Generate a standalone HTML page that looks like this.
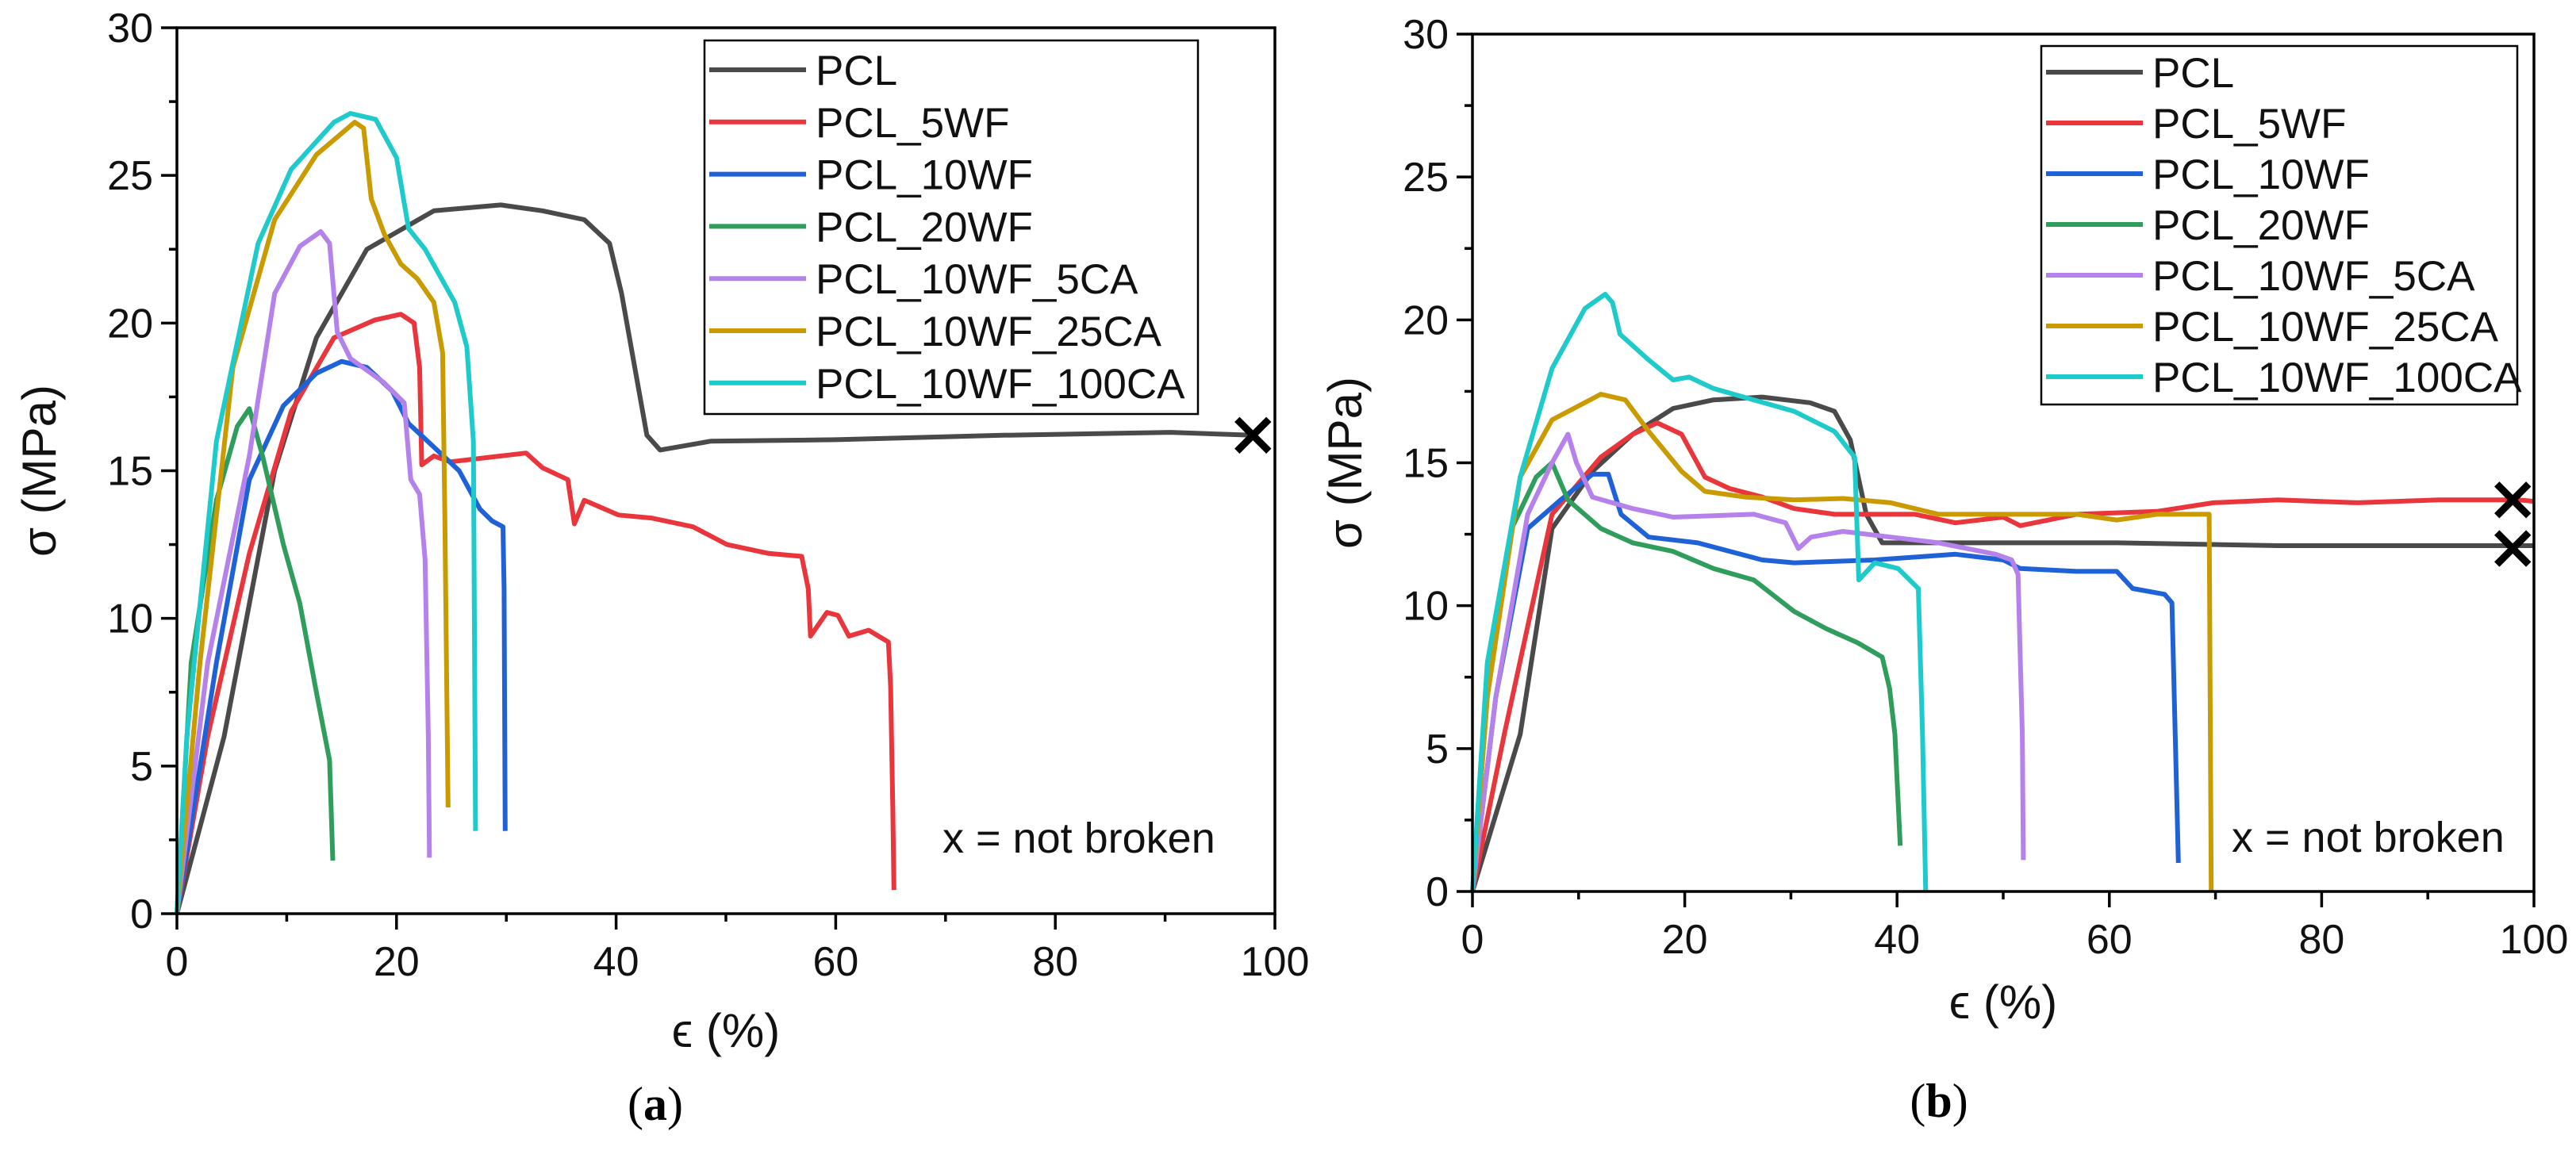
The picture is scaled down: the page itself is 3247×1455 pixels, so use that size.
<!DOCTYPE html>
<html><head><meta charset="utf-8"><style>
html,body{margin:0;padding:0;background:#fff;}
svg{display:block;font-family:"Liberation Sans",sans-serif;}
</style></head><body>
<svg id="fig" width="3247" height="1455" viewBox="0 0 3247 1455"></svg>
<script>
const seriesNames=["PCL","PCL_5WF","PCL_10WF","PCL_20WF","PCL_10WF_5CA","PCL_10WF_25CA","PCL_10WF_100CA"];
const seriesColors=["#4a4a4a","#e8363c","#1f62d8","#2f9e5c","#b482ea","#c99b00","#1fcaca"];
const xTicks=[0,20,40,60,80,100];
const yTicks=[0,5,10,15,20,25,30];
// panel a
const aPCL=[[0,0],[4.3,6],[8.9,15],[12.7,19.5],[17.3,22.5],[23.4,23.8],[29.5,24],[33.3,23.8],[37.1,23.5],[39.4,22.7],[40.5,21],[41.7,18.5],[42.8,16.2],[44,15.7],[48.6,16],[60,16.05],[75.2,16.2],[90.5,16.3],[98,16.2]];
const a5WF=[[0,0],[2.8,6],[6.6,12.2],[10.4,17],[14.3,19.5],[18,20.1],[20.4,20.3],[21.6,20],[22.1,18.5],[22.3,15.2],[23.4,15.5],[24.9,15.3],[29.5,15.5],[31.8,15.6],[33.3,15.1],[35.6,14.7],[36.2,13.2],[37.1,14],[40.2,13.5],[43.2,13.4],[47,13.1],[50.1,12.5],[53.9,12.2],[56.9,12.1],[57.5,11],[57.7,9.4],[59.2,10.2],[60.2,10.1],[61.2,9.4],[63,9.6],[64.8,9.2],[65,7.7],[65.2,3.5],[65.3,0.8]];
const a10WF=[[0,0],[3.6,8.5],[6.6,14.7],[9.7,17.2],[12.7,18.3],[15,18.7],[17.3,18.5],[19.6,17.7],[21.1,16.6],[23.4,15.8],[25.7,15],[27.6,13.7],[28.7,13.3],[29.7,13.1],[29.8,11],[29.9,2.8]];
const a20WF=[[0,0],[1.3,8.5],[3.6,14],[5.5,16.5],[6.6,17.1],[7.8,15.5],[9.7,12.5],[11.2,10.5],[12.7,7.5],[13.9,5.2],[14.2,1.8]];
const a5CA=[[0,0],[2.8,8.5],[6.6,15.5],[8.9,21],[11.2,22.6],[13.1,23.1],[13.9,22.7],[14.6,19.7],[15.8,18.8],[18.8,18],[20.7,17.3],[21.3,14.7],[22.1,14.2],[22.6,12],[22.9,6],[23,1.9]];
const a25CA=[[0,0],[2.1,8.5],[5.1,18.5],[8.9,23.5],[12.7,25.7],[16.2,26.8],[17,26.6],[17.7,24.2],[18.9,23],[20.4,22],[21.9,21.5],[23.4,20.7],[24.2,19],[24.4,13.5],[24.7,3.6]];
const a100CA=[[0,0],[0.9,6],[3.6,16],[7.4,22.7],[10.4,25.2],[14.3,26.8],[15.8,27.1],[18.1,26.9],[20,25.6],[21.1,23.2],[22.6,22.5],[25.3,20.7],[26.4,19.2],[27,16],[27.2,2.8]];
const aMarks=[[98,16.2]];
// panel b
const bPCL=[[0,0],[4.5,5.5],[7.5,12.7],[11.3,14.7],[15.1,16],[18.9,16.9],[22.7,17.2],[27.3,17.3],[31.8,17.1],[34.1,16.8],[35.6,15.8],[37.1,13.2],[38.6,12.2],[45.5,12.2],[60.7,12.2],[75.9,12.1],[98.6,12.1],[100,12.1]];
const b5WF=[[0,0],[3,5.5],[7.5,13.2],[12.1,15.2],[15.1,16],[17.4,16.4],[19.7,16],[21.9,14.5],[24.2,14.1],[27.3,13.8],[30.3,13.4],[34.1,13.2],[41.7,13.2],[45.5,12.9],[50,13.1],[51.6,12.8],[56.9,13.2],[64.5,13.3],[69.8,13.6],[75.9,13.7],[83.4,13.6],[91,13.7],[98.6,13.7],[100,13.65]];
const b10WF=[[0,0],[2.2,6.8],[5.2,12.7],[8.3,13.7],[11.3,14.6],[12.8,14.6],[14,13.2],[16.6,12.4],[21.2,12.2],[27.3,11.6],[30.3,11.5],[37.9,11.6],[45.5,11.8],[50,11.6],[51.6,11.3],[56.9,11.2],[60.7,11.2],[62.2,10.6],[65.2,10.4],[65.9,10.1],[66.2,5.5],[66.5,1]];
const b20WF=[[0,0],[1.4,6.8],[3.7,12.7],[6,14.5],[7.5,15],[9,13.7],[12.1,12.7],[15.1,12.2],[18.9,11.9],[22.7,11.3],[26.5,10.9],[30.3,9.8],[33.3,9.2],[36.3,8.7],[38.6,8.2],[39.3,7.1],[39.8,5.5],[40.3,1.6]];
const b5CA=[[0,0],[2.2,6.8],[5.2,13.2],[7.5,15],[9,16],[9.8,15],[11.3,13.8],[15.1,13.4],[18.9,13.1],[26.5,13.2],[29.5,12.9],[30.7,12],[31.9,12.4],[34.9,12.6],[39.4,12.4],[43.9,12.2],[49.3,11.8],[50.8,11.6],[51.4,11.1],[51.8,5.5],[51.9,1.1]];
const b25CA=[[0,0],[1.4,6.8],[4.5,14.5],[7.5,16.5],[12.1,17.4],[14.4,17.2],[16.6,16.1],[19.7,14.7],[21.9,14],[25.7,13.8],[30.3,13.7],[34.9,13.75],[39.4,13.6],[43.9,13.2],[49.3,13.2],[56.9,13.2],[60.7,13],[64.5,13.2],[69.4,13.2],[69.6,0]];
const b100CA=[[0,0],[1.4,8],[4.5,14.5],[7.5,18.3],[10.6,20.4],[12.5,20.9],[13.2,20.6],[13.9,19.5],[16.6,18.6],[18.9,17.9],[20.4,18],[22.7,17.6],[26.5,17.2],[30.3,16.8],[34.1,16.1],[36,15.2],[36.4,10.9],[37.9,11.5],[40.1,11.3],[42,10.6],[42.4,5.5],[42.7,0]];
const bMarks=[[98,13.7],[98,12.0]];

const NS="http://www.w3.org/2000/svg";
const svg=document.getElementById("fig");
function mk(tag,attrs,parent){const e=document.createElementNS(NS,tag);for(const k in attrs)e.setAttribute(k,attrs[k]);(parent||svg).appendChild(e);return e;}

function panel(P){
  const g=mk("g",{});
  
  
  const sx=v=>P.x0+(v/100)*(P.x1-P.x0);
  const sy=v=>P.y0-(v/30)*(P.y0-P.y1);
  P.series.forEach((s,i)=>{
    const p=mk("polyline",{points:s.map(d=>sx(d[0]).toFixed(1)+","+sy(d[1]).toFixed(1)).join(" "),fill:"none",stroke:seriesColors[i],"stroke-width":6,"stroke-linejoin":"round"},g);
    
    
  });
  const fr=mk("rect",{x:P.x0,y:P.y1,width:P.x1-P.x0,height:P.y0-P.y1,fill:"none",stroke:"#000","stroke-width":3.5},g);
  
  
  for(let v=0;v<=100;v+=10){const maj=v%20===0;const t=mk("line",{x1:sx(v),x2:sx(v),y1:P.y0,y2:P.y0+(maj?20:10),stroke:"#000","stroke-width":3.5},g);}
  for(let v=0;v<=30;v+=2.5){const maj=v%5===0;const t=mk("line",{x1:P.x0,x2:P.x0-(maj?20:10),y1:sy(v),y2:sy(v),stroke:"#000","stroke-width":3.5},g);}
  xTicks.forEach(v=>{const t=mk("text",{x:sx(v),y:P.y0+78,"text-anchor":"middle","font-size":52,fill:"#111"},g);t.textContent=v;});
  yTicks.forEach(v=>{const t=mk("text",{x:P.x0-30,y:sy(v)+18,"text-anchor":"end","font-size":52,fill:"#111"},g);t.textContent=v;});
  const xt=mk("text",{x:(P.x0+P.x1)/2,y:P.xtY,"text-anchor":"middle","font-size":60,fill:"#111"},g);xt.textContent="ϵ (%)";
  
  const yt=mk("text",{x:0,y:0,"text-anchor":"middle","font-size":60,fill:"#111",transform:`translate(${P.ytX},${(P.y0+P.y1)/2}) rotate(-90)`},g);yt.textContent="σ (MPa)";
  
  P.marks.forEach(m=>{const cx=sx(m[0]),cy=sy(m[1]),r=20;
    const mg=mk("g",{stroke:"#000","stroke-width":9},g);
    
    mk("line",{x1:cx-r,y1:cy-r,x2:cx+r,y2:cy+r},mg);mk("line",{x1:cx-r,y1:cy+r,x2:cx+r,y2:cy-r},mg);});
  const lg=mk("g",{},g);
  
  mk("rect",{x:P.lx0,y:P.ly0,width:P.lx1-P.lx0,height:P.ly1-P.ly0,fill:"#fff",stroke:"#000","stroke-width":2.5},lg);
  seriesNames.forEach((n,i)=>{const y=P.lfirst+i*P.lstep;
    const e=mk("g",{},lg);
    mk("line",{x1:P.lx0+6,x2:P.lx0+128,y1:y,y2:y,stroke:seriesColors[i],"stroke-width":6},e);
    const t=mk("text",{x:P.lx0+140,y:y+19,"font-size":53,fill:"#111"},e);t.textContent=n;});
  const nb=mk("text",{x:P.nbX,y:P.nbY,"font-size":54,fill:"#111"},g);nb.textContent="x = not broken";
  
  const cap=mk("text",{x:P.capX,y:P.capY,"text-anchor":"middle","font-size":60,"font-family":"Liberation Serif, serif",fill:"#000"},g);
  cap.innerHTML="(<tspan font-weight='bold'>"+P.cap+"</tspan>)";
  
}
panel({id:"a",x0:223,x1:1607,y0:1152,y1:35,series:[aPCL,a5WF,a10WF,a20WF,a5CA,a25CA,a100CA],marks:aMarks,
  lx0:888,lx1:1510,ly0:51,ly1:522,lfirst:88,lstep:65.8,nbX:1188,nbY:1075,xtY:1320,ytX:70,capX:826,capY:1412,cap:"a"});
panel({id:"b",x0:1856,x1:3194,y0:1124,y1:43,series:[bPCL,b5WF,b10WF,b20WF,b5CA,b25CA,b100CA],marks:bMarks,
  lx0:2573,lx1:3173,ly0:58,ly1:510,lfirst:91,lstep:64,nbX:2813,nbY:1074,xtY:1284,ytX:1716,capX:2444,capY:1408,cap:"b"});
</script>
</body></html>
